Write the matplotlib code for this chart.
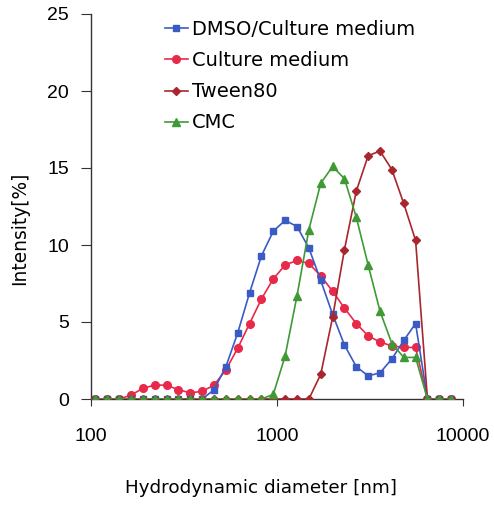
import matplotlib
matplotlib.use("Agg")
import matplotlib.pyplot as plt
from matplotlib.ticker import FixedLocator, NullLocator

# Size bins (nm), Zetasizer-style log bins
sizes = [105.7, 122.4, 141.8, 164.2, 190.1, 220.2, 255.0, 295.3, 342.0, 396.1,
         458.7, 531.2, 615.1, 712.4, 825.0, 955.4, 1106, 1281, 1484, 1718,
         1990, 2305, 2669, 3091, 3580, 4145, 4801, 5560, 6439, 7456, 8635]

dmso = [0, 0, 0, 0, 0, 0, 0, 0, 0, 0, 0.6, 2.1, 4.3, 6.9, 9.3, 10.9, 11.6, 11.2,
        9.8, 7.7, 5.5, 3.5, 2.1, 1.5, 1.7, 2.6, 3.8, 4.9, 0, 0, 0]
culture = [0, 0, 0, 0.25, 0.7, 0.9, 0.9, 0.6, 0.4, 0.5, 0.9, 1.9, 3.3, 4.9, 6.5, 7.8,
           8.7, 9.0, 8.8, 8.0, 7.0, 5.9, 4.9, 4.1, 3.7, 3.45, 3.35, 3.35, 0, 0, 0]
tween = [0, 0, 0, 0, 0, 0, 0, 0, 0, 0, 0, 0, 0, 0, 0, 0, 0, 0, 0, 1.6, 5.3, 9.7,
         13.5, 15.8, 16.1, 14.9, 12.7, 10.3, 0, 0, 0]
cmc = [0, 0, 0, 0, 0, 0, 0, 0, 0, 0, 0, 0, 0, 0, 0, 0.3, 2.8, 6.7, 11.0, 14.0, 15.1,
       14.3, 11.8, 8.7, 5.7, 3.6, 2.7, 2.7, 0, 0, 0]

labels = ["DMSO/Culture medium", "Culture medium", "Tween80", "CMC"]
x_ticks = [100, 1000, 10000]
x_ticklabels = ["100", "1000", "10000"]
y_ticks = [0, 5, 10, 15, 20, 25]

plt.rcParams['font.family'] = ['DejaVu Sans']

fig = plt.figure(figsize=(4.94, 5.05), dpi=100)
ax = fig.add_axes([91/494, 1 - 399/505, (463-91)/494, (399-14)/505])

ax.plot(sizes, dmso, color='#3a5bc4', marker='s', markersize=5, lw=1.2, label=labels[0], zorder=3)
ax.plot(sizes, culture, color='#e8294a', marker='o', markersize=5.5, lw=1.2, label=labels[1], zorder=2)
ax.plot(sizes, tween, color='#a8262e', marker='D', markersize=4.2, lw=1.2, label=labels[2], zorder=4)
ax.plot(sizes, cmc, color='#3f9a35', marker='^', markersize=5.5, lw=1.2, label=labels[3], zorder=5)

ax.set_xscale('log')
ax.set_xlim(100, 10000)
ax.set_ylim(0, 25)
ax.xaxis.set_major_locator(FixedLocator(x_ticks))
ax.xaxis.set_minor_locator(NullLocator())
ax.set_xticklabels(x_ticklabels, fontfamily='Liberation Sans')
ax.set_yticks(y_ticks)
ax.set_yticklabels([str(v) for v in y_ticks], fontfamily='Liberation Sans')

for s in ['top', 'right']:
    ax.spines[s].set_visible(False)
for s in ['left', 'bottom']:
    ax.spines[s].set_color('#333333')
    ax.spines[s].set_linewidth(1.0)

ax.tick_params(axis='y', direction='out', length=7, pad=9, labelsize=14, color='#333333')
ax.tick_params(axis='x', direction='out', length=5, pad=16, labelsize=14, color='#333333')

ax.set_ylabel("Intensity[%]", fontsize=13.4)
ax.yaxis.set_label_coords(-0.167, 0.444)
ax.set_xlabel("Hydrodynamic diameter [nm]", fontsize=13.2)
ax.xaxis.set_label_coords(0.457, -0.208)

leg = ax.legend(loc='upper left', bbox_to_anchor=(0.177, 1.004), frameon=False, fontsize=14,
                handlelength=1.2, handletextpad=0.2, labelspacing=0.62, borderaxespad=0)

fig.savefig("out.png", dpi=100)
